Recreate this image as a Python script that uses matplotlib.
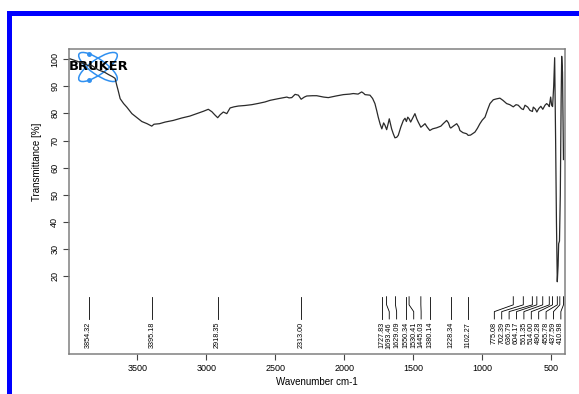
import numpy as np
import matplotlib
matplotlib.use("Agg")
import matplotlib.pyplot as plt
from matplotlib.patches import Ellipse, Rectangle

plt.rcParams['font.family'] = ['Liberation Sans', 'DejaVu Sans']

# IR spectrum, wavenumber (cm-1) vs transmittance (%)
wavenumber = [3996, 3960, 3927, 3880, 3854, 3830, 3783, 3740, 3710, 3680, 3662, 3650,
              3640, 3625, 3600, 3577, 3540, 3500, 3468, 3430, 3396, 3380, 3340, 3299,
              3240, 3178, 3120, 3058, 3020, 2986, 2960, 2940, 2918, 2900, 2877, 2852,
              2828, 2800, 2768, 2720, 2671, 2620, 2575, 2538, 2480, 2417, 2400, 2381,
              2357, 2340, 2333, 2313, 2290, 2272, 2230, 2200, 2150, 2116, 2060, 2007,
              1960, 1935, 1900, 1874, 1860, 1850, 1814, 1795, 1778, 1765, 1754, 1740,
              1728, 1715, 1705, 1693, 1683, 1674, 1665, 1657, 1645, 1633, 1620, 1609,
              1590, 1572, 1560, 1550, 1540, 1530, 1519, 1505, 1488, 1475, 1464, 1445,
              1430, 1415, 1400, 1380, 1360, 1330, 1300, 1283, 1258, 1245, 1234, 1228,
              1210, 1185, 1170, 1162, 1140, 1113, 1102, 1085, 1053, 1035, 1017, 1000,
              980, 960, 944, 920, 900, 872, 850, 823, 800, 775, 755, 739,
              715, 702, 690, 670, 654, 636, 630, 615, 604, 590, 575, 561,
              545, 533, 520, 514, 504, 497, 490, 482, 475, 468, 462, 456,
              450, 446, 440, 434, 428, 424, 418, 414, 411]
transmittance = [100.2, 99.6, 99.0, 98.2, 97.5, 97.6, 96.0, 95.2, 94.3, 93.5, 92.9, 90.4,
                 88.5, 85.4, 83.6, 82.3, 79.9, 78.3, 77.0, 76.2, 75.3, 76.0, 76.2, 76.8,
                 77.4, 78.3, 79.0, 80.1, 80.8, 81.5, 80.6, 79.5, 78.4, 79.5, 80.5, 79.9,
                 82.0, 82.4, 82.7, 82.9, 83.2, 83.7, 84.2, 84.8, 85.4, 86.0, 85.7, 85.8,
                 87.0, 86.8, 86.7, 85.2, 86.0, 86.4, 86.5, 86.5, 86.0, 85.8, 86.4, 86.9,
                 87.1, 87.3, 87.1, 87.9, 87.4, 86.9, 86.7, 85.5, 83.6, 81.0, 78.6, 76.0,
                 74.3, 76.5, 75.6, 74.0, 76.0, 78.0, 76.0, 74.3, 72.5, 71.0, 71.2, 71.9,
                 75.0, 77.4, 78.2, 77.0, 78.6, 78.0, 76.8, 78.2, 79.9, 78.0, 76.8, 74.9,
                 75.5, 76.2, 75.0, 73.7, 74.3, 74.7, 75.3, 76.2, 77.4, 76.5, 74.9, 74.6,
                 75.3, 76.2, 75.0, 73.7, 72.9, 72.5, 71.9, 72.0, 73.1, 74.5, 76.2, 77.5,
                 78.6, 81.5, 83.6, 85.0, 85.3, 85.6, 84.8, 83.6, 83.2, 82.4, 83.2, 83.0,
                 81.7, 81.4, 83.0, 82.3, 81.1, 80.7, 82.3, 81.6, 80.5, 81.8, 82.6, 81.5,
                 83.0, 83.6, 83.0, 82.5, 86.0, 83.0, 82.5, 90.0, 100.5, 70.0, 40.0, 18.0,
                 24.0, 32.0, 33.0, 50.0, 85.0, 101.0, 95.0, 75.0, 63.0]

peaks = [3854.32, 3395.18, 2918.35, 2313.00, 1727.83, 1693.46, 1629.09, 1550.34,
         1530.41, 1445.03, 1380.14, 1228.34, 1102.27, 775.08, 702.39, 636.79,
         604.17, 561.35, 514.00, 490.28, 455.78, 437.59, 410.98]

fig = plt.figure(figsize=(5.79, 3.94), dpi=100)
ax = fig.add_axes([69 / 579, 1 - 354 / 394, 496 / 579, 305 / 394])
ax.set_zorder(2)
ax.patch.set_visible(False)

ax.plot(wavenumber, transmittance, color='#2a2a2a', lw=0.9)
ax.set_xlim(3996, 400)
ax.set_ylim(-8.6, 103.7)

ax.set_xticks([3500, 3000, 2500, 2000, 1500, 1000, 500])
ax.set_yticks([20, 30, 40, 50, 60, 70, 80, 90, 100])
ax.tick_params(labelsize=6.5, length=4, width=0.8, color='#444444', pad=3)
plt.setp(ax.get_yticklabels(), rotation=90, va='center')
for s in ax.spines.values():
    s.set_color('#808080')
    s.set_linewidth(1.1)

ax.set_xlabel('Wavenumber cm-1', fontsize=7, labelpad=3)
ax.set_ylabel('Transmittance [%]', fontsize=7)
ax.yaxis.set_label_coords(-0.054, 0.63)

# peak labels: spread overlapping labels apart
pitch = 53.6
lab = list(peaks)
for i in range(1, len(lab)):
    lab[i] = min(lab[i], lab[i - 1] - pitch)
lab[-1] = max(lab[-1], 430)
for i in range(len(lab) - 2, -1, -1):
    lab[i] = max(lab[i], lab[i + 1] + pitch)

for p, lx in zip(peaks, lab):
    if abs(p - lx) < 1:
        ax.plot([p, p], [12.5, 4.3], color='black', lw=0.6)
    else:
        ax.plot([p, p, lx, lx], [12.5, 9.5, 7.0, 4.3], color='black', lw=0.6)
    ax.text(lx, 3.2, f'{p:.2f}', rotation=90, ha='center', va='top', fontsize=5.2)

# logo in the top left corner
lg = fig.add_axes([66 / 579, 1 - 86 / 394, 64 / 579, 38 / 394])
lg.set_zorder(1)
lg.set_xlim(0, 64)
lg.set_ylim(0, 38)
lg.axis('off')
cx, cy, a, b = 32, 19, 23, 7.5
for ang in (35, -35):
    lg.add_patch(Ellipse((cx, cy), 2 * a, 2 * b, angle=ang, fill=False,
                         ec='#3090f0', lw=1.1))
t = np.deg2rad(130)
c35, s35 = np.cos(np.deg2rad(35)), np.sin(np.deg2rad(35))
dx = a * np.cos(t) * c35 + b * np.sin(t) * s35
dy = -a * np.cos(t) * s35 + b * np.sin(t) * c35
lg.plot([cx + dx, cx + dx], [cy + dy, cy - dy], 'o', color='#3090f0', ms=2.5)
lg.text(3, cy, 'BRUKER', ha='left', va='center', fontsize=9.4,
        fontweight='heavy', color='black', family='DejaVu Sans')

# blue frame along the top and left
fig.add_artist(Rectangle((7.5 / 579, 0), 4.5 / 579, 383 / 394,
                         transform=fig.transFigure, color='#0000ff', lw=0))
fig.add_artist(Rectangle((7.5 / 579, 1 - 15.5 / 394), 1, 4.5 / 394,
                         transform=fig.transFigure, color='#0000ff', lw=0))

fig.savefig('out.png', dpi=100)
plt.close(fig)
